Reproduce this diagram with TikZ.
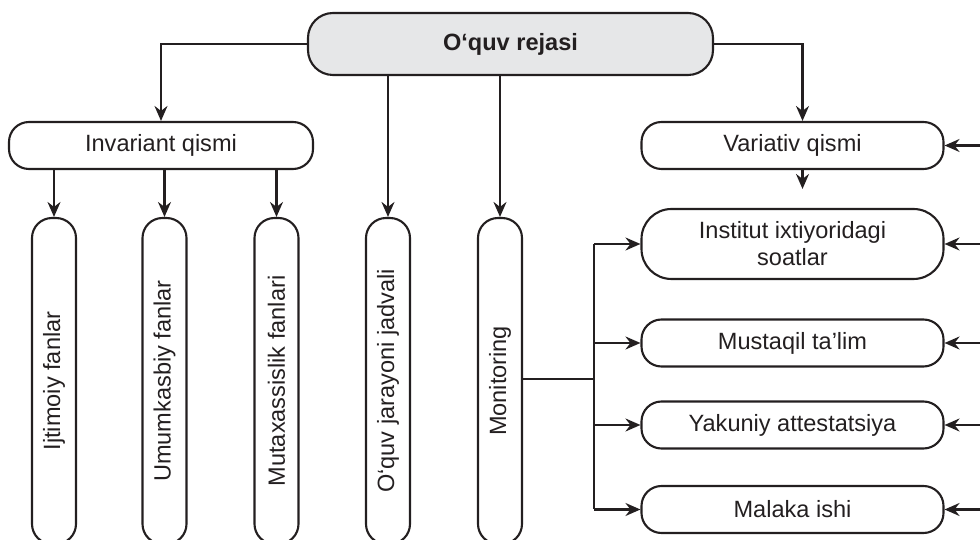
\documentclass[tikz,border=0pt]{standalone}
\usepackage{fontspec}
\setmainfont{Liberation Sans}
\usetikzlibrary{arrows.meta}

\definecolor{kulrang}{HTML}{E6E7E8}
\definecolor{chiziq}{HTML}{231F20}

\begin{document}
\begin{tikzpicture}[font=\fontsize{13.4}{16}\selectfont, text=chiziq,
    line width=1.2pt, draw=chiziq, >={Stealth[length=3mm, width=2.6mm, inset=1mm]},
    quti/.style={draw=chiziq, rounded corners=4mm, inner sep=0pt, minimum width=6.04cm, minimum height=0.94cm, align=center},
    ustun/.style={draw=chiziq, rounded corners=4mm, inner sep=0pt, rotate=90, minimum width=6.52cm, minimum height=0.88cm}]
  \useasboundingbox (0,0) rectangle (19.6,10.8);

  \node[quti, fill=kulrang, rounded corners=5mm, minimum width=8.1cm, minimum height=1.24cm, font=\fontsize{13.4}{16}\selectfont\bfseries] (rej) at (10.21, 9.92) {O‘quv rejasi};

  \node[quti, minimum width=6.08cm] (inv) at (3.22, 7.89) {Invariant qismi};
  \node[quti] (var) at (15.85, 7.89) {Variativ qismi};

  %-------------
  \node[ustun] (ijt) at (1.08, 3.18) {Ijtimoiy fanlar};
  \node[ustun] (umu) at (3.29, 3.18) {Umumkasbiy fanlar};
  \node[ustun] (mut) at (5.53, 3.18) {Mutaxassislik fanlari};
  \node[ustun] (jad) at (7.76, 3.18) {O‘quv jarayoni jadvali};
  \node[ustun] (mon) at (10.0, 3.18) {Monitoring};

  %-------------
  \node[quti, rounded corners=6mm, minimum height=1.4cm, font=\fontsize{13.4}{15.3}\selectfont] (ins) at (15.85, 5.92) {Institut ixtiyoridagi\\soatlar};
  \node[quti] (mus) at (15.85, 3.94) {Mustaqil ta’lim};
  \node[quti] (yak) at (15.85, 2.30) {Yakuniy attestatsiya};
  \node[quti] (mal) at (15.85, 0.61) {Malaka ishi};

  \coordinate (kn) at (11.88, 0);
  \coordinate (sag) at (19.8, 0);

  %-------------
  \draw[->] (rej.west) -| (inv.north);
  \draw[->] (rej.east) -| ([xshift=2mm]var.north);
  \draw[->] (rej.south -| jad.east) -- (jad.east);
  \draw[->] (rej.south -| mon.east) -- (mon.east);

  \foreach \n in {ijt, umu, mut}
    \draw[->] (inv.south -| \n.east) -- (\n.east);

  \draw[->, shorten >=3.8mm] ([xshift=2mm]var.south) -- ([xshift=2mm]ins.north);

  %-------------
  \draw ([yshift=0.4mm]mon.south) -- ([yshift=0.4mm]mon.south -| kn);
  \draw (ins.west -| kn) -- (mal.west -| kn);
  \foreach \n in {ins, mus, yak, mal}
    \draw[->] (\n.west -| kn) -- (\n.west);

  \foreach \n in {var, ins, mus, yak, mal}
    \draw[->] (\n.east -| sag) -- (\n.east);

\end{tikzpicture}
\end{document}
